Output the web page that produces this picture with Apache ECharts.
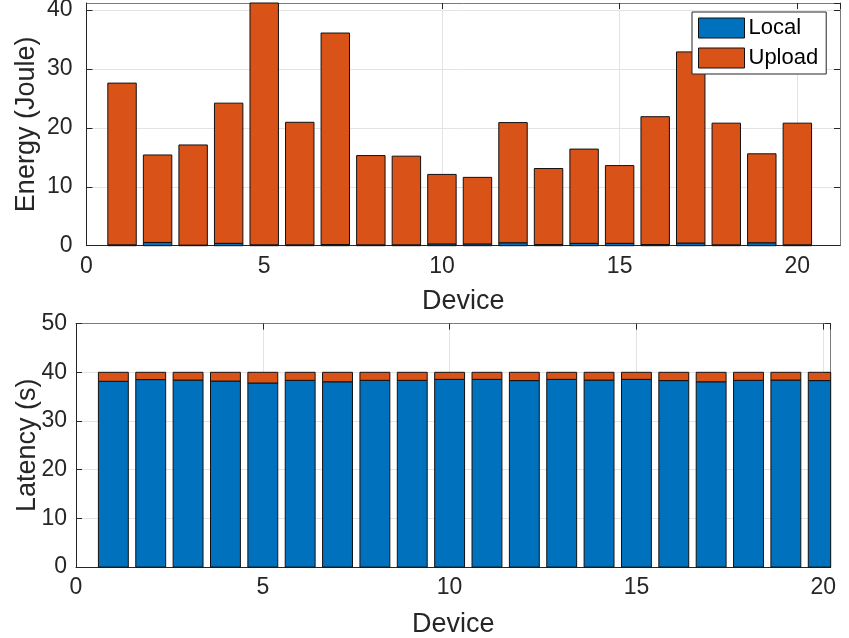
<!DOCTYPE html>
<html>
<head>
<meta charset="utf-8">
<title>Device energy and latency</title>
<script src="https://cdn.jsdelivr.net/npm/echarts@6/dist/echarts.min.js"></script>
<style>
  html, body { margin: 0; padding: 0; background: #ffffff; }
  #chart { width: 849px; height: 638px; }
</style>
</head>
<body>
<div id="chart"></div>
<script>
// Device indices 1..20
const devices = [1, 2, 3, 4, 5, 6, 7, 8, 9, 10, 11, 12, 13, 14, 15, 16, 17, 18, 19, 20];

// Energy (Joule): local computation and upload parts
const energyLocal  = [0.15, 0.55, 0.10, 0.40, 0.15, 0.15, 0.20, 0.15, 0.15, 0.30,
                      0.30, 0.50, 0.20, 0.40, 0.40, 0.20, 0.45, 0.15, 0.50, 0.15];
const energyUpload = [27.45, 14.85, 17.00, 23.80, 41.50, 20.80, 35.90, 15.15, 15.05, 11.80,
                      11.30, 20.40, 12.90, 16.00, 13.20, 21.70, 32.45, 20.65, 15.10, 20.65];

// Latency (s): local computation and upload parts
const latencyLocal  = [38.15, 38.50, 38.40, 38.20, 37.80, 38.35, 38.05, 38.35, 38.35, 38.55,
                       38.55, 38.30, 38.55, 38.40, 38.55, 38.30, 38.05, 38.35, 38.40, 38.30];
const latencyUpload = [1.85, 1.50, 1.60, 1.80, 2.20, 1.65, 1.95, 1.65, 1.65, 1.45,
                       1.45, 1.70, 1.45, 1.60, 1.45, 1.70, 1.95, 1.65, 1.60, 1.70];

// Axis tick values
const xTicks = [0, 5, 10, 15, 20];
const energyTicks = [0, 10, 20, 30, 40];
const latencyTicks = [0, 10, 20, 30, 40, 50];

const seriesNames = ['Local', 'Upload'];
const colors = ['#0072BD', '#D95319'];

const FONT = "'Liberation Sans', Helvetica, Arial, sans-serif";
const TEXT = '#262626';
const AXIS = '#262626';
const BOX = '#7a7a7a';
const GRIDLINE = '#e3e3e3';
const EDGE = '#111111';
const BAR_WIDTH = 0.8; // in device units

const topGrid = { left: 86.5, top: 3, right: 9, bottom: 392.3 };
const botGrid = { left: 76, top: 323.6, right: 18.3, bottom: 70.9 };
const topX = { min: 0, max: 21.2 };
const botX = { min: 0, max: 20.2 };
const topY = { min: 0, max: 41.2 };
const botY = { min: 0, max: 50 };

// stacked segments: [device, lower value, upper value]
function segments(lower, values) {
  return values.map((v, i) => {
    const base = lower ? lower[i] : 0;
    return [devices[i], base, base + v];
  });
}

const tickLabel = { color: TEXT, fontFamily: FONT, fontSize: 23 };
const nameStyle = { color: TEXT, fontFamily: FONT, fontSize: 27 };

function mainXAxis(gridIndex, range, gap) {
  return {
    type: 'value', gridIndex, position: 'bottom',
    min: range.min, max: range.max, interval: 5,
    name: 'Device', nameLocation: 'middle', nameGap: gap, nameTextStyle: nameStyle,
    axisLine: { show: true, onZero: false, lineStyle: { color: AXIS, width: 1 } },
    axisTick: { show: true, inside: true, length: 6, lineStyle: { color: AXIS } },
    axisLabel: { ...tickLabel, margin: 9, showMaxLabel: false,
                 formatter: v => xTicks.includes(v) ? String(v) : '' },
    splitLine: { show: true, lineStyle: { color: GRIDLINE, width: 1 } }
  };
}
function mirrorXAxis(gridIndex, range) {
  return {
    type: 'value', gridIndex, position: 'top',
    min: range.min, max: range.max, interval: 5,
    axisLine: { show: true, onZero: false, lineStyle: { color: BOX, width: 1 } },
    axisTick: { show: true, inside: true, length: 6, lineStyle: { color: AXIS } },
    axisLabel: { show: false }, splitLine: { show: false }
  };
}
function mainYAxis(gridIndex, range, name, ticks, gap, margin) {
  return {
    type: 'value', gridIndex, position: 'left',
    min: range.min, max: range.max, interval: 10,
    name, nameLocation: 'middle', nameGap: gap, nameTextStyle: nameStyle,
    nameMoveOverlap: false,
    axisLine: { show: true, onZero: false, lineStyle: { color: AXIS, width: 1 } },
    axisTick: { show: true, inside: true, length: 6, lineStyle: { color: AXIS } },
    axisLabel: { ...tickLabel, margin, showMaxLabel: range.max === ticks[ticks.length - 1],
                 formatter: v => ticks.includes(v) ? String(v) : '' },
    splitLine: { show: true, lineStyle: { color: GRIDLINE, width: 1 } }
  };
}
function mirrorYAxis(gridIndex, range) {
  return {
    type: 'value', gridIndex, position: 'right',
    min: range.min, max: range.max, interval: 10,
    axisLine: { show: true, onZero: false, lineStyle: { color: BOX, width: 1 } },
    axisTick: { show: true, inside: true, length: 6, lineStyle: { color: AXIS } },
    axisLabel: { show: false }, splitLine: { show: false }
  };
}

// Stacked bar segment drawn through the axes' scales and clipped to the plot frame
function renderSegment(params, api) {
  const x = api.value(0), lo = api.value(1), hi = api.value(2);
  const p0 = api.coord([x - BAR_WIDTH / 2, hi]);
  const p1 = api.coord([x + BAR_WIDTH / 2, lo]);
  const cs = params.coordSys;
  const shape = echarts.graphic.clipRectByRect(
    { x: p0[0], y: p0[1], width: p1[0] - p0[0], height: p1[1] - p0[1] },
    { x: cs.x, y: cs.y, width: cs.width, height: cs.height }
  );
  if (!shape) return null;
  return {
    type: 'rect', shape,
    style: api.style({ stroke: EDGE, lineWidth: 1 })
  };
}

function segmentSeries(name, color, axisIndex, data) {
  return {
    name, type: 'custom',
    xAxisIndex: axisIndex, yAxisIndex: axisIndex,
    data, encode: { x: 0, y: [1, 2] },
    renderItem: renderSegment,
    itemStyle: { color },
    emphasis: { disabled: true }, animation: false
  };
}

const chart = echarts.init(document.getElementById('chart'), null, { renderer: 'canvas' });

chart.setOption({
  animation: false,
  textStyle: { fontFamily: FONT },
  grid: [
    { ...topGrid, containLabel: false, outerBoundsMode: 'none' },
    { ...botGrid, containLabel: false, outerBoundsMode: 'none' }
  ],
  legend: {
    data: seriesNames,
    orient: 'vertical',
    left: 692, top: 12,
    padding: [5, 8, 5, 6],
    itemGap: 8,
    itemWidth: 46, itemHeight: 20,
    icon: 'rect',
    backgroundColor: '#ffffff',
    borderColor: '#262626', borderWidth: 1, borderRadius: 0,
    textStyle: { color: '#000000', fontFamily: FONT, fontSize: 22, padding: [0, 0, 0, -1] },
    itemStyle: { borderColor: EDGE, borderWidth: 1 }
  },
  xAxis: [
    mainXAxis(0, topX, 42),
    mirrorXAxis(0, topX),
    mainXAxis(1, botX, 44),
    mirrorXAxis(1, botX)
  ],
  yAxis: [
    mainYAxis(0, topY, 'Energy (Joule)', energyTicks, 46, 14),
    mirrorYAxis(0, topY),
    mainYAxis(1, botY, 'Latency (s)', latencyTicks, 35, 9),
    mirrorYAxis(1, botY)
  ],
  series: [
    segmentSeries(seriesNames[0], colors[0], 0, segments(null, energyLocal)),
    segmentSeries(seriesNames[1], colors[1], 0, segments(energyLocal, energyUpload)),
    segmentSeries(seriesNames[0], colors[0], 2, segments(null, latencyLocal)),
    segmentSeries(seriesNames[1], colors[1], 2, segments(latencyLocal, latencyUpload))
  ]
});
</script>
</body>
</html>
